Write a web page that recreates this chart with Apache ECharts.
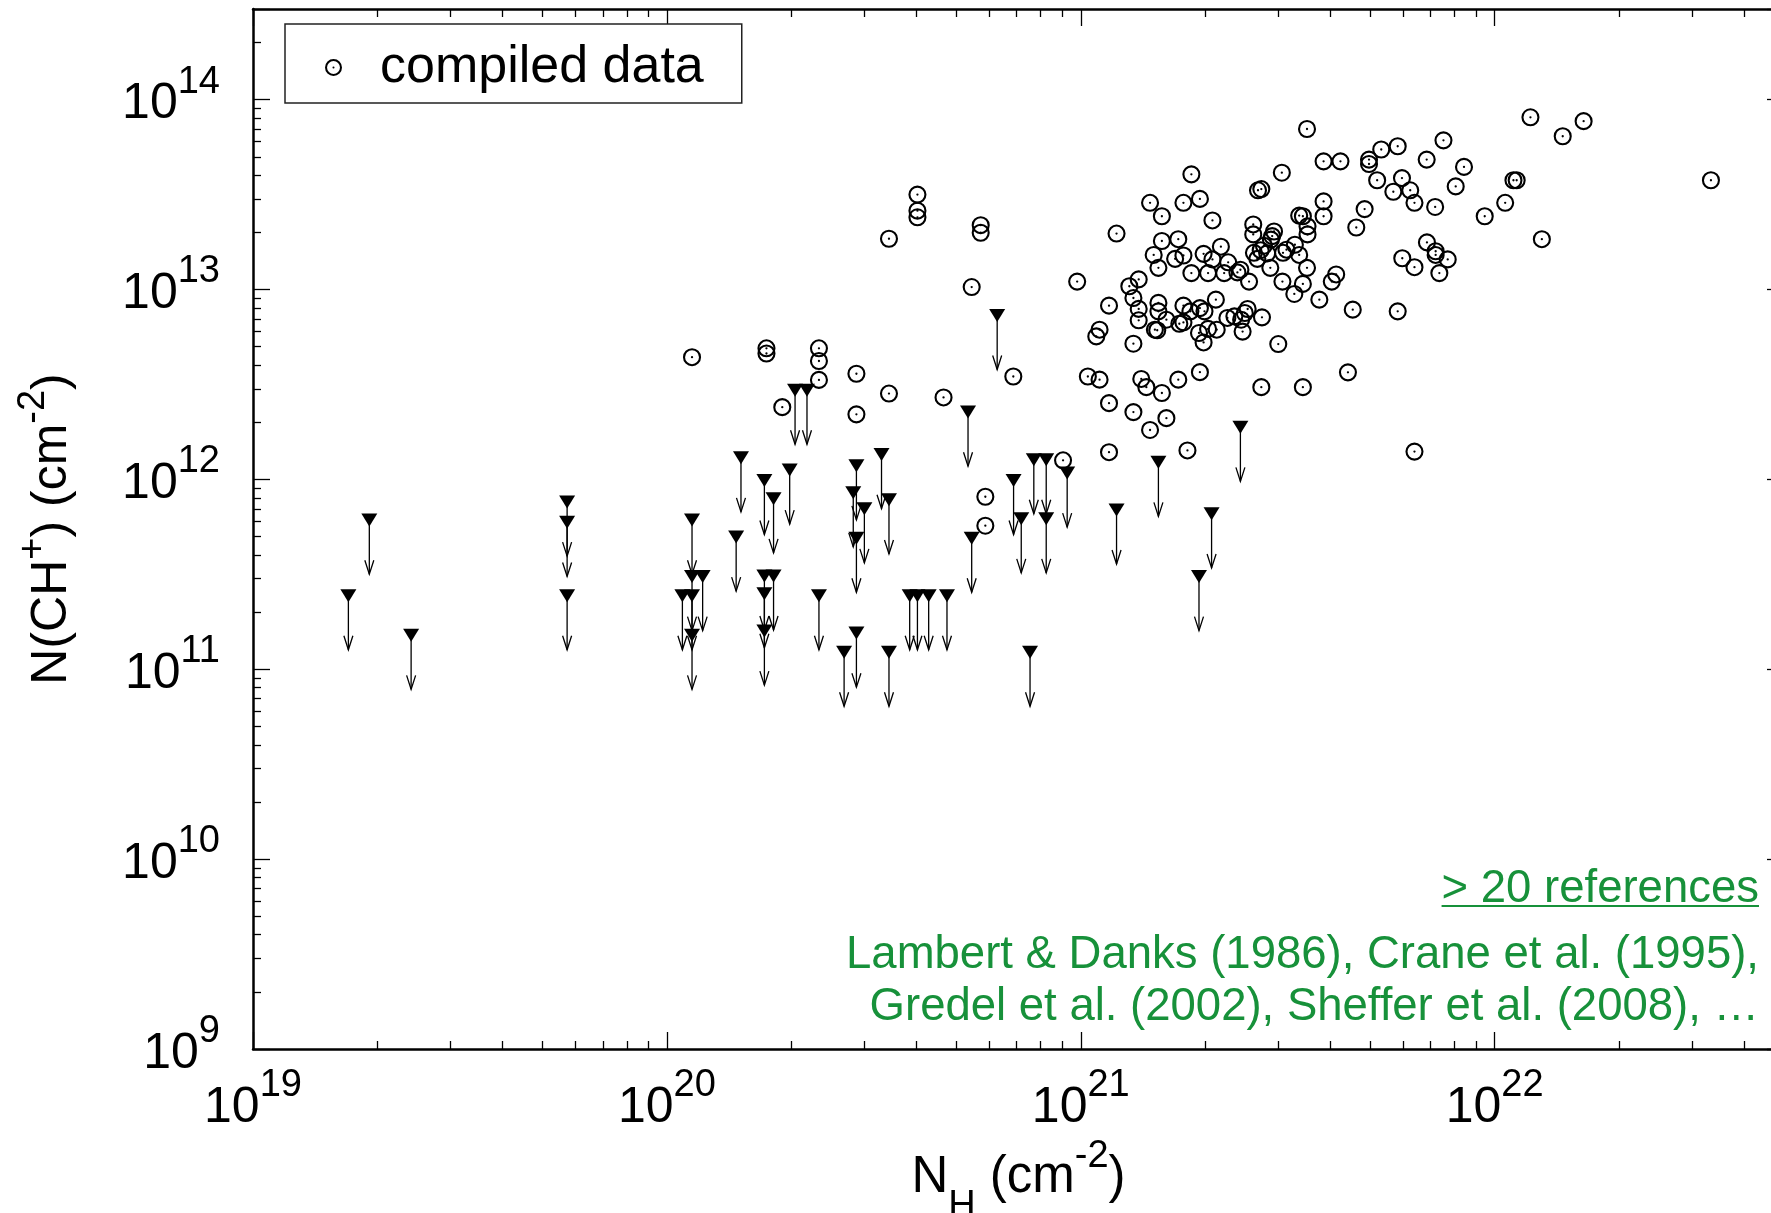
<!DOCTYPE html>
<html>
<head>
<meta charset="utf-8">
<script src="https://cdn.jsdelivr.net/npm/echarts@6/dist/echarts.min.js"></script>
<style>
html,body{margin:0;padding:0;background:#fff;}
#chart{width:1771px;height:1213px;}
</style>
</head>
<body>
<div id="chart"></div>
<script>
// ---------------- data ----------------
const X_TICK_EXPONENTS = [19, 20, 21, 22];
const Y_TICK_EXPONENTS = [9, 10, 11, 12, 13, 14];
const X_RANGE = [1e19, 5e22];
const Y_RANGE = [1e9, 3e14];

const LEGEND_LABEL = 'compiled data';
const NOTE_TITLE = '> 20 references';
const NOTE_LINES = [
  'Lambert & Danks (1986), Crane et al. (1995),',
  'Gredel et al. (2002), Sheffer et al. (2008), \u2026'
];

// compiled detections [N_H, N(CH+)]
const compiledData = [
  [1.15e20, 4.4e12], [1.74e20, 4.9e12], [1.74e20, 4.6e12], [1.9e20, 2.4e12],
  [2.33e20, 4.9e12], [2.33e20, 4.2e12], [2.33e20, 3.34e12], [2.87e20, 3.6e12],
  [2.87e20, 2.2e12], [3.44e20, 1.85e13], [3.44e20, 2.83e12], [4.03e20, 3.16e13],
  [4.03e20, 2.6e13], [4.03e20, 2.4e13], [4.66e20, 2.7e12], [5.45e20, 1.03e13],
  [5.73e20, 2.18e13], [5.73e20, 1.99e13], [5.88e20, 8.1e11], [5.88e20, 5.7e11],
  [6.87e20, 3.48e12], [9.06e20, 1.26e12], [9.8e20, 1.1e13],
  [3.52e21, 7.0e13], [1.22e22, 8.07e13], [1.64e22, 7.7e13], [1.46e22, 6.41e13],
  [7.52e21, 6.1e13], [5.83e21, 5.68e13], [5.32e21, 5.46e13], [4.97e21, 4.83e13],
  [4.97e21, 4.58e13], [3.86e21, 4.73e13], [4.24e21, 4.73e13], [6.85e21, 4.83e13],
  [8.43e21, 4.42e13], [5.2e21, 3.76e13], [5.97e21, 3.86e13], [5.69e21, 3.27e13],
  [6.25e21, 3.33e13], [6.4e21, 2.86e13], [7.18e21, 2.72e13], [8.05e21, 3.49e13],
  [1.11e22, 3.76e13], [1.13e22, 3.76e13], [1.06e22, 2.86e13], [9.46e21, 2.43e13],
  [1.30e22, 1.84e13], [3.06e21, 4.12e13], [1.85e21, 4.04e13], [2.68e21, 3.33e13],
  [2.73e21, 3.38e13], [1.47e21, 2.86e13], [1.77e21, 2.86e13], [1.94e21, 3.0e13],
  [1.57e21, 2.43e13], [2.08e21, 2.31e13], [1.22e21, 1.97e13], [3.86e21, 2.91e13],
  [3.86e21, 2.43e13], [3.37e21, 2.45e13], [3.44e21, 2.43e13], [4.85e21, 2.65e13],
  [4.63e21, 2.12e13], [2.61e21, 2.2e13], [2.61e21, 1.95e13], [2.93e21, 2.02e13],
  [2.9e21, 1.91e13], [3.53e21, 2.15e13], [3.53e21, 1.95e13], [1.57e21, 1.8e13],
  [1.72e21, 1.84e13], [1.50e21, 1.52e13], [1.69e21, 1.45e13], [1.77e21, 1.51e13],
  [1.54e21, 1.3e13], [1.98e21, 1.54e13], [2.18e21, 1.68e13], [2.08e21, 1.44e13],
  [2.27e21, 1.39e13], [2.43e21, 1.27e13], [1.85e21, 1.22e13], [2.03e21, 1.22e13],
  [2.22e21, 1.22e13], [2.39e21, 1.23e13], [2.55e21, 1.1e13], [2.62e21, 1.56e13],
  [2.72e21, 1.61e13], [2.77e21, 1.7e13], [2.67e21, 1.45e13], [2.82e21, 1.55e13],
  [2.88e21, 1.83e13], [2.87e21, 1.3e13], [3.08e21, 1.56e13], [3.14e21, 1.62e13],
  [3.29e21, 1.72e13], [3.37e21, 1.52e13], [3.52e21, 1.3e13], [3.07e21, 1.1e13],
  [3.44e21, 1.07e13], [3.28e21, 9.47e12], [3.77e21, 8.84e12], [4.04e21, 1.1e13],
  [4.14e21, 1.2e13], [4.54e21, 7.83e12], [5.83e21, 7.67e12], [5.98e21, 1.46e13],
  [6.4e21, 1.31e13], [6.86e21, 1.77e13], [7.2e21, 1.59e13], [7.2e21, 1.52e13],
  [7.7e21, 1.44e13], [7.35e21, 1.22e13], [1.38e21, 1.13e13], [1.31e21, 1.04e13],
  [1.34e21, 9.02e12], [1.17e21, 8.22e12], [1.38e21, 7.9e12], [1.38e21, 6.88e12],
  [1.54e21, 8.5e12], [1.54e21, 7.67e12], [1.61e21, 6.93e12], [1.51e21, 6.14e12],
  [1.53e21, 6.1e12], [1.73e21, 6.6e12], [1.77e21, 6.71e12], [1.77e21, 8.22e12],
  [1.84e21, 7.67e12], [1.94e21, 7.98e12], [1.99e21, 7.67e12], [2.12e21, 8.84e12],
  [1.93e21, 5.9e12], [1.98e21, 5.26e12], [2.03e21, 6.2e12], [2.13e21, 6.14e12],
  [2.26e21, 7.08e12], [2.35e21, 7.22e12], [2.44e21, 6.93e12], [2.53e21, 7.89e12],
  [2.46e21, 6.0e12], [2.49e21, 7.52e12], [2.74e21, 7.13e12], [3.0e21, 5.16e12],
  [1.34e21, 5.18e12], [1.09e21, 5.66e12], [1.11e21, 6.14e12], [1.04e21, 3.48e12],
  [1.11e21, 3.35e12], [1.4e21, 3.38e12], [1.44e21, 3.06e12], [1.57e21, 2.85e12],
  [1.72e21, 3.35e12], [1.94e21, 3.67e12], [1.17e21, 2.52e12], [1.34e21, 2.26e12],
  [1.61e21, 2.1e12], [1.47e21, 1.82e12], [1.17e21, 1.39e12], [1.81e21, 1.42e12],
  [2.73e21, 3.06e12], [3.44e21, 3.06e12], [4.42e21, 3.66e12], [6.4e21, 1.4e12],
  [3.33e22, 3.76e13]
];

// upper limits [N_H, N(CH+) upper limit]
const upperLimits = [
  [1.7e19, 2.44e11], [1.91e19, 6.1e11], [2.41e19, 1.51e11],
  [5.74e19, 7.6e11], [5.74e19, 5.94e11], [5.74e19, 2.44e11],
  [1.09e20, 2.44e11], [1.15e20, 2.44e11], [1.15e20, 6.1e11], [1.15e20, 3.08e11],
  [1.15e20, 1.51e11], [1.22e20, 3.08e11], [1.47e20, 4.97e11], [1.51e20, 1.3e12],
  [1.72e20, 9.87e11], [1.72e20, 3.1e11], [1.72e20, 2.5e11], [1.72e20, 1.59e11],
  [1.81e20, 3.1e11], [1.81e20, 7.9e11], [1.98e20, 1.12e12], [2.04e20, 2.95e12],
  [2.18e20, 2.95e12], [2.33e20, 2.44e11], [2.68e20, 1.23e11], [2.82e20, 8.5e11],
  [2.87e20, 1.18e12], [2.87e20, 4.9e11], [2.87e20, 1.55e11], [3.0e20, 7.0e11],
  [3.3e20, 1.35e12], [3.44e20, 7.8e11], [3.44e20, 1.23e11], [3.86e20, 2.44e11],
  [4.03e20, 2.44e11], [4.29e20, 2.44e11], [4.75e20, 2.44e11], [5.34e20, 2.26e12],
  [5.45e20, 4.9e11], [6.28e20, 7.3e12], [6.88e20, 9.87e11], [7.18e20, 6.2e11],
  [7.54e20, 1.23e11], [7.7e20, 1.27e12], [8.25e20, 1.27e12], [8.25e20, 6.2e11],
  [9.27e20, 1.08e12], [1.22e21, 6.9e11], [1.54e21, 1.23e12], [1.93e21, 3.08e11],
  [2.07e21, 6.58e11], [2.43e21, 1.88e12]
];

// ---------------- styling ----------------
const FONT = '"Liberation Sans", Arial, Helvetica, sans-serif';
const GREEN = '#17913a';
const ARROW_DECADES = 0.285;
const RING_DOT = 'path://M0 50A50 50 0 1 1 100 50A50 50 0 1 1 0 50Z' +
  'M12 50A38 38 0 1 0 88 50A38 38 0 1 0 12 50Z' +
  'M44 50A6 6 0 1 1 56 50A6 6 0 1 1 44 50Z';

function minorLogs(lo, hi) {
  const out = [];
  for (let n = Math.floor(lo); n <= Math.ceil(hi); n++) {
    for (let k = 2; k <= 9; k++) {
      const v = n + Math.log10(k);
      if (v > lo + 1e-9 && v < hi - 1e-9) out.push(v);
    }
  }
  return out;
}
const XL = [Math.log10(X_RANGE[0]), Math.log10(X_RANGE[1])];
const YL = [Math.log10(Y_RANGE[0]), Math.log10(Y_RANGE[1])];

function powLabel(exps) {
  return function (v) {
    const e = Math.log10(v);
    const r = Math.round(e);
    if (Math.abs(e - r) > 1e-6 || exps.indexOf(r) < 0) return '';
    return '{b|10}{s|' + r + '}';
  };
}
const labelRich = {
  b: { fontSize: 50, lineHeight: 74, fontFamily: FONT, color: '#000' },
  s: { fontSize: 38, lineHeight: 10, verticalAlign: 'middle', padding: [0, 0, 45, 0], fontFamily: FONT, color: '#000' }
};
const AX_LINE = { show: true, onZero: false, lineStyle: { color: '#000', width: 2.5 } };
const MAJOR_TICK = { show: true, inside: true, length: 17, lineStyle: { color: '#000', width: 1.3 } };
function minorTick(vals) {
  return { show: true, inside: true, length: 8, customValues: vals, lineStyle: { color: '#000', width: 1.3 } };
}

function renderLimit(params, api) {
  const x = api.value(0), y = api.value(1);
  const p = api.coord([x, y]);
  const q = api.coord([x, y / Math.pow(10, ARROW_DECADES)]);
  const hw = 8, hh = 6.5;
  return {
    type: 'group',
    children: [
      { type: 'line', shape: { x1: p[0], y1: p[1], x2: q[0], y2: q[1] },
        style: { stroke: '#000', lineWidth: 1.3 } },
      { type: 'polyline', shape: { points: [[q[0] - 4.5, q[1] - 14], [q[0], q[1]], [q[0] + 4.5, q[1] - 14]] },
        style: { stroke: '#000', fill: 'none', lineWidth: 1.3 } },
      { type: 'polygon', shape: { points: [[p[0] - hw, p[1] - hh], [p[0] + hw, p[1] - hh], [p[0], p[1] + hh]] },
        style: { fill: '#000', stroke: 'none' } }
    ]
  };
}

// measure underline width
const NOTE_FONT = '45.5px ' + FONT;
const mctx = document.createElement('canvas').getContext('2d');
mctx.font = NOTE_FONT;
const titleW = mctx.measureText(NOTE_TITLE).width;
const NOTE_RIGHT = 1759;

const gridRect = { left: 253, top: 9, right: -13, bottom: 164, containLabel: false, outerBoundsMode: 'none' };
const noteStyle = function (t) {
  return { text: t, font: NOTE_FONT, fill: GREEN,
           align: 'right', verticalAlign: 'middle', textAlign: 'right', textVerticalAlign: 'middle' };
};

const chart = echarts.init(document.getElementById('chart'), null, { renderer: 'canvas' });
chart.setOption({
  animation: false,
  backgroundColor: '#fff',
  textStyle: { fontFamily: FONT },
  grid: [Object.assign({}, gridRect), Object.assign({}, gridRect)],
  legend: {
    data: [{ name: LEGEND_LABEL, icon: RING_DOT, itemStyle: { color: '#000', borderWidth: 0 } }],
    left: 285, top: 24,
    padding: [14, 38, 6, 40],
    itemWidth: 17, itemHeight: 17,
    backgroundColor: '#fff',
    borderColor: '#222', borderWidth: 1.5, borderRadius: 0,
    selectedMode: false,
    textStyle: { fontSize: 52, fontFamily: FONT, color: '#000', lineHeight: 59, padding: [0, 0, 0, 33] },
    z: 10
  },
  xAxis: [
    {
      gridIndex: 0, type: 'log', position: 'bottom', min: X_RANGE[0], max: X_RANGE[1],
      axisLine: AX_LINE, axisTick: MAJOR_TICK, splitLine: { show: false }, minorTick: { show: false },
      axisLabel: { margin: 22, formatter: powLabel(X_TICK_EXPONENTS), rich: labelRich },
      name: '{n|N}{sub|H}{n| (cm}{sup|-2}{n|)}',
      nameLocation: 'middle', nameGap: 94, nameMoveOverlap: false,
      nameTextStyle: {
        rich: {
          n: { fontSize: 51, lineHeight: 70, fontFamily: FONT, color: '#000' },
          sub: { fontSize: 38, lineHeight: 10, verticalAlign: 'middle', padding: [57, 0, 0, 0], fontFamily: FONT, color: '#000' },
          sup: { fontSize: 38, lineHeight: 10, verticalAlign: 'middle', padding: [0, 0, 43, 0], fontFamily: FONT, color: '#000' }
        }
      }
    },
    {
      gridIndex: 0, type: 'log', position: 'top', min: X_RANGE[0], max: X_RANGE[1],
      axisLine: AX_LINE, axisTick: MAJOR_TICK, axisLabel: { show: false }, splitLine: { show: false }
    },
    {
      gridIndex: 1, type: 'value', position: 'bottom', min: XL[0], max: XL[1],
      axisLine: { show: false }, axisTick: minorTick(minorLogs(XL[0], XL[1])),
      axisLabel: { show: false }, splitLine: { show: false }
    },
    {
      gridIndex: 1, type: 'value', position: 'top', min: XL[0], max: XL[1],
      axisLine: { show: false }, axisTick: minorTick(minorLogs(XL[0], XL[1])),
      axisLabel: { show: false }, splitLine: { show: false }
    }
  ],
  yAxis: [
    {
      gridIndex: 0, type: 'log', position: 'left', min: Y_RANGE[0], max: Y_RANGE[1],
      axisLine: AX_LINE, axisTick: MAJOR_TICK, splitLine: { show: false }, minorTick: { show: false },
      axisLabel: { margin: 33, padding: [10, 0, 0, 0], formatter: powLabel(Y_TICK_EXPONENTS), rich: labelRich },
      name: '{n|N(CH}{sup|+}{n|) (cm}{sup|-2}{n|)}',
      nameLocation: 'middle', nameRotate: 90, nameGap: 151, nameMoveOverlap: false,
      nameTextStyle: {
        rich: {
          n: { fontSize: 50, lineHeight: 100, fontFamily: FONT, color: '#000' },
          sup: { fontSize: 38, lineHeight: 10, verticalAlign: 'middle', padding: [0, 0, 36, 0], fontFamily: FONT, color: '#000' }
        }
      }
    },
    {
      gridIndex: 0, type: 'log', position: 'right', min: Y_RANGE[0], max: Y_RANGE[1],
      axisLine: AX_LINE, axisTick: MAJOR_TICK, axisLabel: { show: false }, splitLine: { show: false }
    },
    {
      gridIndex: 1, type: 'value', position: 'left', min: YL[0], max: YL[1],
      axisLine: { show: false }, axisTick: minorTick(minorLogs(YL[0], YL[1])),
      axisLabel: { show: false }, splitLine: { show: false }
    },
    {
      gridIndex: 1, type: 'value', position: 'right', min: YL[0], max: YL[1],
      axisLine: { show: false }, axisTick: minorTick(minorLogs(YL[0], YL[1])),
      axisLabel: { show: false }, splitLine: { show: false }
    }
  ],
  graphic: [
    { type: 'text', x: NOTE_RIGHT, y: 889, z: 20, style: noteStyle(NOTE_TITLE) },
    { type: 'line', z: 20, shape: { x1: NOTE_RIGHT - titleW, y1: 906, x2: NOTE_RIGHT, y2: 906 },
      style: { stroke: GREEN, lineWidth: 2 } },
    { type: 'text', x: NOTE_RIGHT, y: 955, z: 20, style: noteStyle(NOTE_LINES[0]) },
    { type: 'text', x: NOTE_RIGHT, y: 1007, z: 20, style: noteStyle(NOTE_LINES[1]) }
  ],
  series: [
    {
      type: 'custom', name: 'upper limits', xAxisIndex: 0, yAxisIndex: 0,
      data: upperLimits, renderItem: renderLimit, encode: { x: 0, y: 1 }, z: 2, silent: true
    },
    {
      type: 'scatter', name: LEGEND_LABEL, xAxisIndex: 0, yAxisIndex: 0,
      data: compiledData, symbol: 'circle', symbolSize: 16,
      itemStyle: { color: 'rgba(0,0,0,0)', borderColor: '#000', borderWidth: 2.1, opacity: 1 },
      emphasis: { disabled: true }, z: 3, silent: true
    },
    {
      type: 'scatter', name: 'compiled data centres', xAxisIndex: 0, yAxisIndex: 0,
      data: compiledData, symbol: 'circle', symbolSize: 2.3,
      itemStyle: { color: '#000', borderWidth: 0, opacity: 1 },
      emphasis: { disabled: true }, z: 4, silent: true
    }
  ]
});
</script>
</body>
</html>
